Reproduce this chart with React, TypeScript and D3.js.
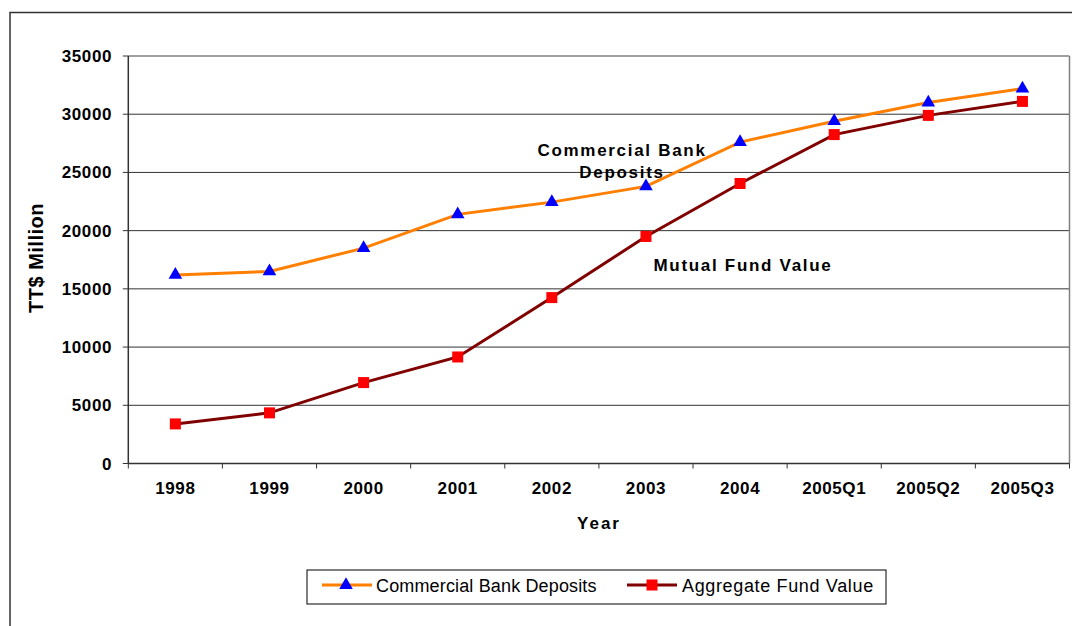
import React from "react";
import * as d3 from "d3";

const categories = ["1998", "1999", "2000", "2001", "2002", "2003", "2004", "2005Q1", "2005Q2", "2005Q3"];
const bankDeposits = [16200, 16500, 18500, 21400, 22450, 23800, 27600, 29400, 31000, 32200];
const fundValue = [3400, 4350, 6950, 9150, 14250, 19500, 24050, 28250, 29900, 31100];
const yTicks = [0, 5000, 10000, 15000, 20000, 25000, 30000, 35000];

const W = 1072, H = 626;
const L = 128.3, R = 1069.5, T = 56, B = 463.5;

export default function App() {
  const x = d3.scaleBand<string>().domain(categories).range([L, R]).padding(0);
  const y = d3.scaleLinear().domain([0, 35000]).range([B, T]);
  const cx = (c: string) => (x(c) as number) + x.bandwidth() / 2;
  const line = d3.line<number>().x((_, i) => cx(categories[i])).y((d) => y(d));
  const tri = d3.symbol().type(d3.symbolTriangle).size(80)() as string;
  const font = "Arial, 'Liberation Sans', sans-serif";

  return (
    <svg width={W} height={H} style={{ position: "absolute", left: 0, top: 0, background: "#fff" }} fontFamily={font}>
      <rect x={10} y={12.5} width={1080} height={640} fill="none" stroke="#333" strokeWidth={1.5} />
      {/* gridlines */}
      {yTicks.slice(1).map((t) => (
        <line key={t} x1={L} x2={R} y1={y(t)} y2={y(t)} stroke={t === 35000 ? "#808080" : "#333"} strokeWidth={t === 35000 ? 1.5 : 1} />
      ))}
      <line x1={R} x2={R} y1={T} y2={B} stroke="#808080" strokeWidth={1.5} />
      {/* axes */}
      <line x1={L} x2={L} y1={T} y2={B + 0.5} stroke="#333" strokeWidth={1.5} />
      <line x1={L} x2={R} y1={B} y2={B} stroke="#333" strokeWidth={1.5} />
      {yTicks.map((t) => (
        <g key={t}>
          <line x1={L - 5.5} x2={L} y1={y(t)} y2={y(t)} stroke="#333" strokeWidth={1} />
          <text x={112} y={y(t) + 6} textAnchor="end" fontSize={17} fontWeight="bold" letterSpacing={0.6} fill="#000">{t}</text>
        </g>
      ))}
      {categories.map((c) => (
        <g key={c}>
          <line x1={x(c) as number} x2={x(c) as number} y1={B} y2={B + 5} stroke="#333" strokeWidth={1} />
          <text x={cx(c)} y={494} textAnchor="middle" fontSize={17} fontWeight="bold" letterSpacing={0.6} fill="#000">{c}</text>
        </g>
      ))}
      <line x1={R} x2={R} y1={B} y2={B + 5} stroke="#333" strokeWidth={1} />
      <text x={599} y={529} textAnchor="middle" fontSize={17} fontWeight="bold" letterSpacing={2} fill="#000">Year</text>
      <text transform={`translate(43,258) rotate(-90)`} textAnchor="middle" fontSize={20} fontWeight="bold" letterSpacing={0.5} fill="#000">TT$ Million</text>

      {/* lines */}
      <path d={line(bankDeposits) as string} fill="none" stroke="#FF7F00" strokeWidth={3} />
      <path d={line(fundValue) as string} fill="none" stroke="#800000" strokeWidth={3} />
      {fundValue.map((v, i) => (
        <rect key={i} x={cx(categories[i]) - 5.5} y={y(v) - 5.5} width={11} height={11} fill="#FF0000" />
      ))}
      {bankDeposits.map((v, i) => (
        <path key={i} d={tri} transform={`translate(${cx(categories[i])},${y(v)})`} fill="#0000FF" />
      ))}

      {/* annotations */}
      <text x={622} y={156} textAnchor="middle" fontSize={17} fontWeight="bold" letterSpacing={1.7} fill="#000">Commercial Bank</text>
      <text x={622} y={178} textAnchor="middle" fontSize={17} fontWeight="bold" letterSpacing={1.7} fill="#000">Deposits</text>
      <text x={743} y={271} textAnchor="middle" fontSize={17} fontWeight="bold" letterSpacing={1.7} fill="#000">Mutual Fund Value</text>

      {/* legend */}
      <rect x={307} y={570} width={579} height={34} fill="#fff" stroke="#000" strokeWidth={1} />
      <line x1={322} x2={372} y1={585} y2={585} stroke="#FF7F00" strokeWidth={3} />
      <path d={tri} transform="translate(346,585)" fill="#0000FF" />
      <text x={376} y={592} fontSize={18} letterSpacing={0.15} fill="#000">Commercial Bank Deposits</text>
      <line x1={627} x2={677} y1={585} y2={585} stroke="#800000" strokeWidth={3} />
      <rect x={646.5} y={579.5} width={11} height={11} fill="#FF0000" />
      <text x={682} y={592} fontSize={18} letterSpacing={0.65} fill="#000">Aggregate Fund Value</text>
    </svg>
  );
}
